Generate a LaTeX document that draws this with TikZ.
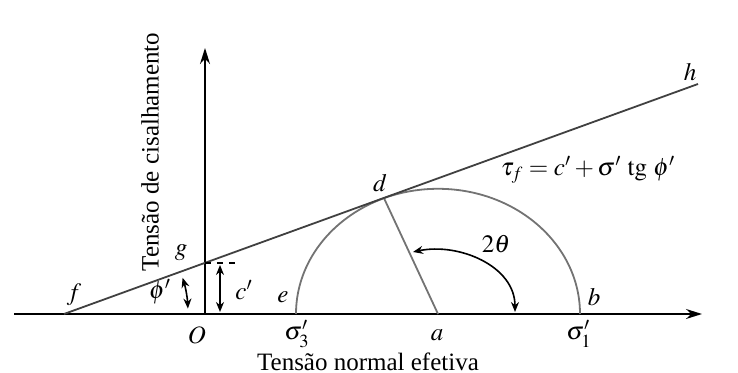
\documentclass[tikz,border=0pt]{standalone}
\usepackage{mathptmx}
\usepackage{fontspec}
\setmainfont{Liberation Serif}
\usetikzlibrary{arrows.meta}
\begin{document}
\begin{tikzpicture}[x=0.5pt,y=0.5pt,
  lbl/.style={font=\fontsize{12.5}{14}\selectfont, inner sep=0pt},
  axis/.style={line width=0.8pt, -{Stealth[length=8pt,width=5pt]}},
  env/.style={line width=0.9pt, black!75},
  circ/.style={line width=0.9pt, black!55},
  dim/.style={line width=0.8pt, {Stealth[length=5pt,width=4pt]}-{Stealth[length=5pt,width=4pt]}}]
\useasboundingbox (0,0) rectangle (738,373);
% points
\coordinate (xs) at (14,59);
\coordinate (xe) at (702,59);
\coordinate (O) at (205,59);
\coordinate (yt) at (205,325);
\coordinate (f) at (64,59);
\coordinate (g) at (205,110);
\coordinate (h) at (698,289);
\coordinate (a) at (438,59);
\coordinate (e) at (296,59);
\coordinate (b) at (580,59);
\coordinate (d) at (384,174.8);
\coordinate (gd) at (238,110);
\coordinate (ct) at (220,110);
\coordinate (cb) at (220,59);
\coordinate (t1) at (413,121);
\coordinate (t2) at (515,61);
% axes
\draw[axis] (xs) -- (xe);
\draw[axis] (O) -- (yt);
% circle and radius
\draw[circ] (b) arc[start angle=0,end angle=180,x radius=142,y radius=125.2];
\draw[circ] (a) -- (d);
% envelope
\draw[env] (f) -- (h);
% c'
\draw[line width=0.7pt, dashed] (g) -- (gd);
\draw[dim] ([yshift=-1pt]ct) -- ([yshift=1pt]cb);
% phi'
\draw[dim] ([shift={(2.5:124)}]f) arc[start angle=2.5,end angle=17,radius=124];
% 2 theta
\draw[dim] (t1) to[out=12,in=90] (t2);
% labels
\node[lbl] (lf) at (74,78) {$f$};
\node[lbl] (lg) at (181,120) {$g$};
\node[lbl] (lphi) at (160,81) {$\phi'$};
\node[lbl] (lc) at (244,83) {$c'$};
\node[lbl] (lO) at (197,38) {$O$};
\node[lbl] (le) at (283,76) {$e$};
\node[lbl] (ls3) at (297,39) {$\sigma_3'$};
\node[lbl] (la) at (437,38) {$a$};
\node[lbl] (ls1) at (579,39) {$\sigma_1'$};
\node[lbl] (lb) at (594,76) {$b$};
\node[lbl] (ld) at (380,190) {$d$};
\node[lbl] (lh) at (690,301) {$h$};
\node[lbl] (leq) at (588,203) {$\tau_f = c' + \sigma'\ \mathrm{tg}\ \phi'$};
\node[lbl] (lth) at (496,129) {$2\theta$};
\node[lbl] (lx) at (368,11) {Tensão normal efetiva};
\node[lbl, rotate=90] (ly) at (150,221) {Tensão de cisalhamento};
\end{tikzpicture}
\end{document}
